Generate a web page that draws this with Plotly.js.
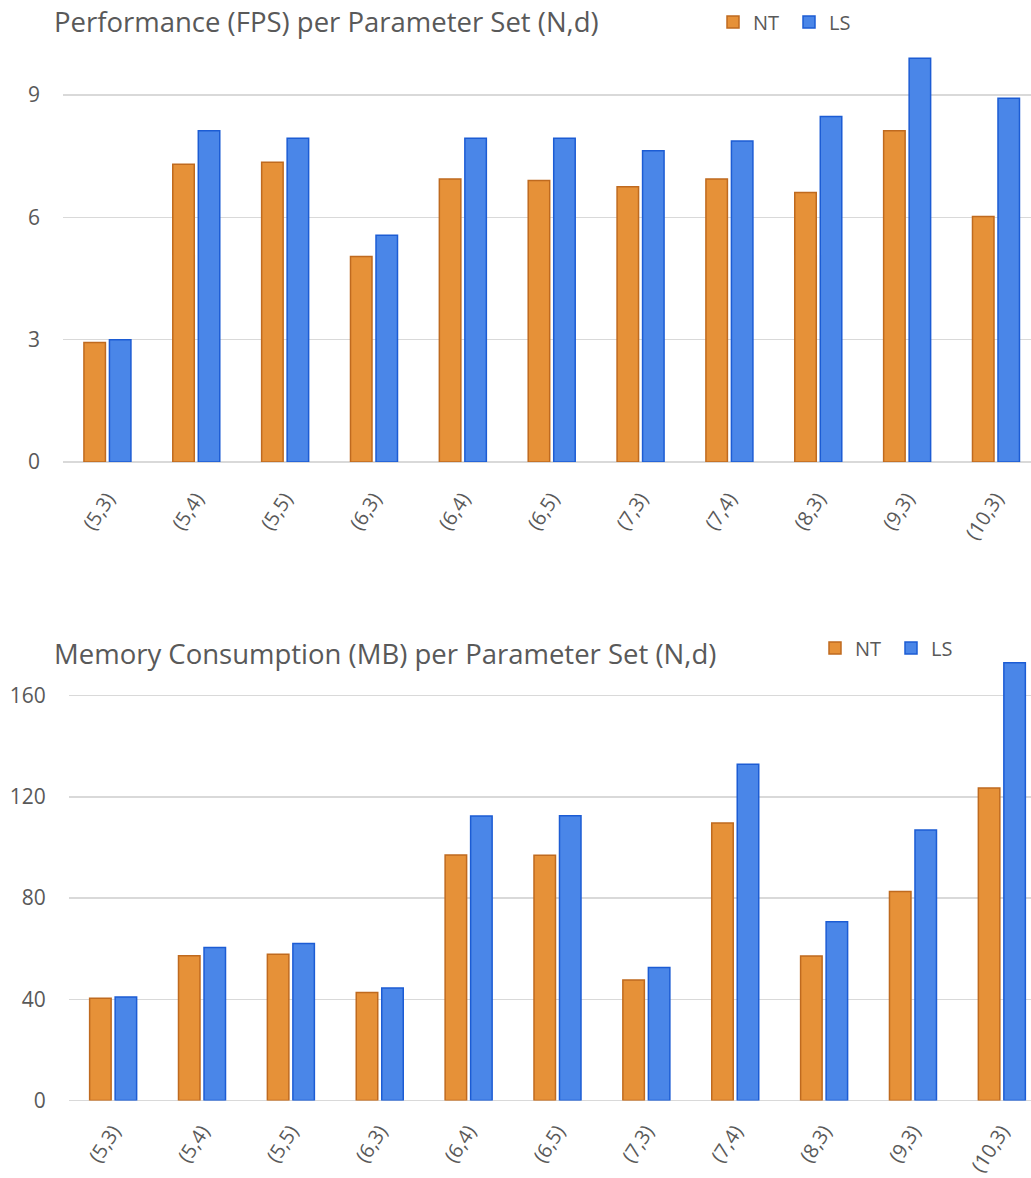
<!DOCTYPE html>
<html>
<head>
<meta charset="utf-8">
<script src="https://cdn.plot.ly/plotly-3.0.1.min.js"></script>
<style>
  html, body { margin: 0; padding: 0; background: #ffffff; overflow: hidden; }
  #chart { width: 1031px; height: 1178px; }
</style>
</head>
<body>
<div id="chart"></div>
<script>
// Parameter sets (N,d)
const paramSets = ['(5,3)', '(5,4)', '(5,5)', '(6,3)', '(6,4)', '(6,5)', '(7,3)', '(7,4)', '(8,3)', '(9,3)', '(10,3)'];

// Frames per second
const fpsNT = [2.93, 7.30, 7.35, 5.04, 6.94, 6.90, 6.75, 6.94, 6.61, 8.12, 6.02];
const fpsLS = [3.00, 8.12, 7.94, 5.56, 7.94, 7.94, 7.63, 7.87, 8.47, 9.90, 8.92];

// Memory consumption in MB
const memNT = [40.4, 57.2, 57.8, 42.7, 97.0, 96.9, 47.6, 109.6, 57.1, 82.6, 123.5];
const memLS = [40.9, 60.4, 62.0, 44.4, 112.4, 112.5, 52.5, 132.8, 70.6, 106.9, 172.9];

const fpsTicks = [0, 3, 6, 9];
const memTicks = [0, 40, 80, 120, 160];

const W = 1031, H = 1178;
const px = v => v / W;
const py = v => (H - v) / H;

const FONT = '"Open Sans", "Noto Sans", sans-serif';
const GREY = '#595959';
const GRID = '#d9d9d9';

const NT_FILL = '#E69138', NT_LINE = '#BF6A1F';
const LS_FILL = '#4A86E8', LS_LINE = '#1C5CD4';

function barTrace(name, x, y, fill, line, xa, ya, legend) {
  return {
    type: 'bar', name: name, x: x, y: y,
    xaxis: xa, yaxis: ya, legend: legend, showlegend: true,
    marker: { color: fill, line: { color: line, width: 1.5 } },
    hoverinfo: 'x+y+name'
  };
}

const data = [
  barTrace('NT', paramSets, fpsNT, NT_FILL, NT_LINE, 'x', 'y', 'legend'),
  barTrace('LS', paramSets, fpsLS, LS_FILL, LS_LINE, 'x', 'y', 'legend'),
  barTrace('NT', paramSets, memNT, NT_FILL, NT_LINE, 'x2', 'y2', 'legend2'),
  barTrace('LS', paramSets, memLS, LS_FILL, LS_LINE, 'x2', 'y2', 'legend2')
];

const yTickFont = { family: FONT, size: 21, color: GREY };
const xTickFont = { family: FONT, size: 20, color: GREY };

function xAxis(domainStart, rangeEnd, anchor, standoff) {
  return {
    domain: [domainStart, 1], anchor: anchor,
    type: 'category', range: [-0.5, rangeEnd],
    showgrid: false, zeroline: false, showline: false,
    ticks: '', tickangle: -57, tickfont: xTickFont,
    ticklabelstandoff: standoff, fixedrange: true
  };
}
function yAxis(domain, range, ticks, anchor) {
  return {
    domain: domain, anchor: anchor, range: range,
    tickmode: 'array', tickvals: ticks, ticktext: ticks.map(String),
    showgrid: true, gridcolor: GRID, gridwidth: 1.5,
    zeroline: true, zerolinecolor: GRID, zerolinewidth: 1.5,
    showline: false, ticks: '', tickfont: yTickFont,
    ticklabelstandoff: 22, fixedrange: true
  };
}

const legendBase = {
  orientation: 'h', xanchor: 'left', yanchor: 'middle',
  font: { family: FONT, size: 20, color: GREY },
  bgcolor: 'rgba(0,0,0,0)', borderwidth: 0,
  entrywidth: 31, entrywidthmode: 'pixels', traceorder: 'normal'
};

const layout = {
  width: W, height: H,
  margin: { l: 0, r: 0, t: 0, b: 0, pad: 0 },
  paper_bgcolor: '#ffffff', plot_bgcolor: '#ffffff',
  font: { family: FONT, color: GREY },
  barmode: 'group', bargap: 0.426, bargroupgap: 0.157,
  showlegend: true,
  xaxis: xAxis(px(63), 10.394, 'y', 20),
  yaxis: yAxis([py(462), py(54.2)], [0, 10], fpsTicks, 'x'),
  xaxis2: xAxis(px(68.7), 10.328, 'y2', 14),
  yaxis2: yAxis([py(1100.5), py(644.9)], [0, 180], memTicks, 'x2'),
  legend: Object.assign({}, legendBase, { x: px(713), y: py(22) }),
  legend2: Object.assign({}, legendBase, { x: px(815), y: py(648) }),
  annotations: [
    {
      text: 'Performance (FPS) per Parameter Set (N,d)',
      xref: 'paper', yref: 'paper', x: px(52), y: py(22),
      xanchor: 'left', yanchor: 'middle', showarrow: false,
      font: { family: FONT, size: 27.5, color: GREY }
    },
    {
      text: 'Memory Consumption (MB) per Parameter Set (N,d)',
      xref: 'paper', yref: 'paper', x: px(52), y: py(653),
      xanchor: 'left', yanchor: 'middle', showarrow: false,
      font: { family: FONT, size: 27.5, color: GREY }
    }
  ]
};

Plotly.newPlot('chart', data, layout, { displayModeBar: false, staticPlot: true });
</script>
</body>
</html>
